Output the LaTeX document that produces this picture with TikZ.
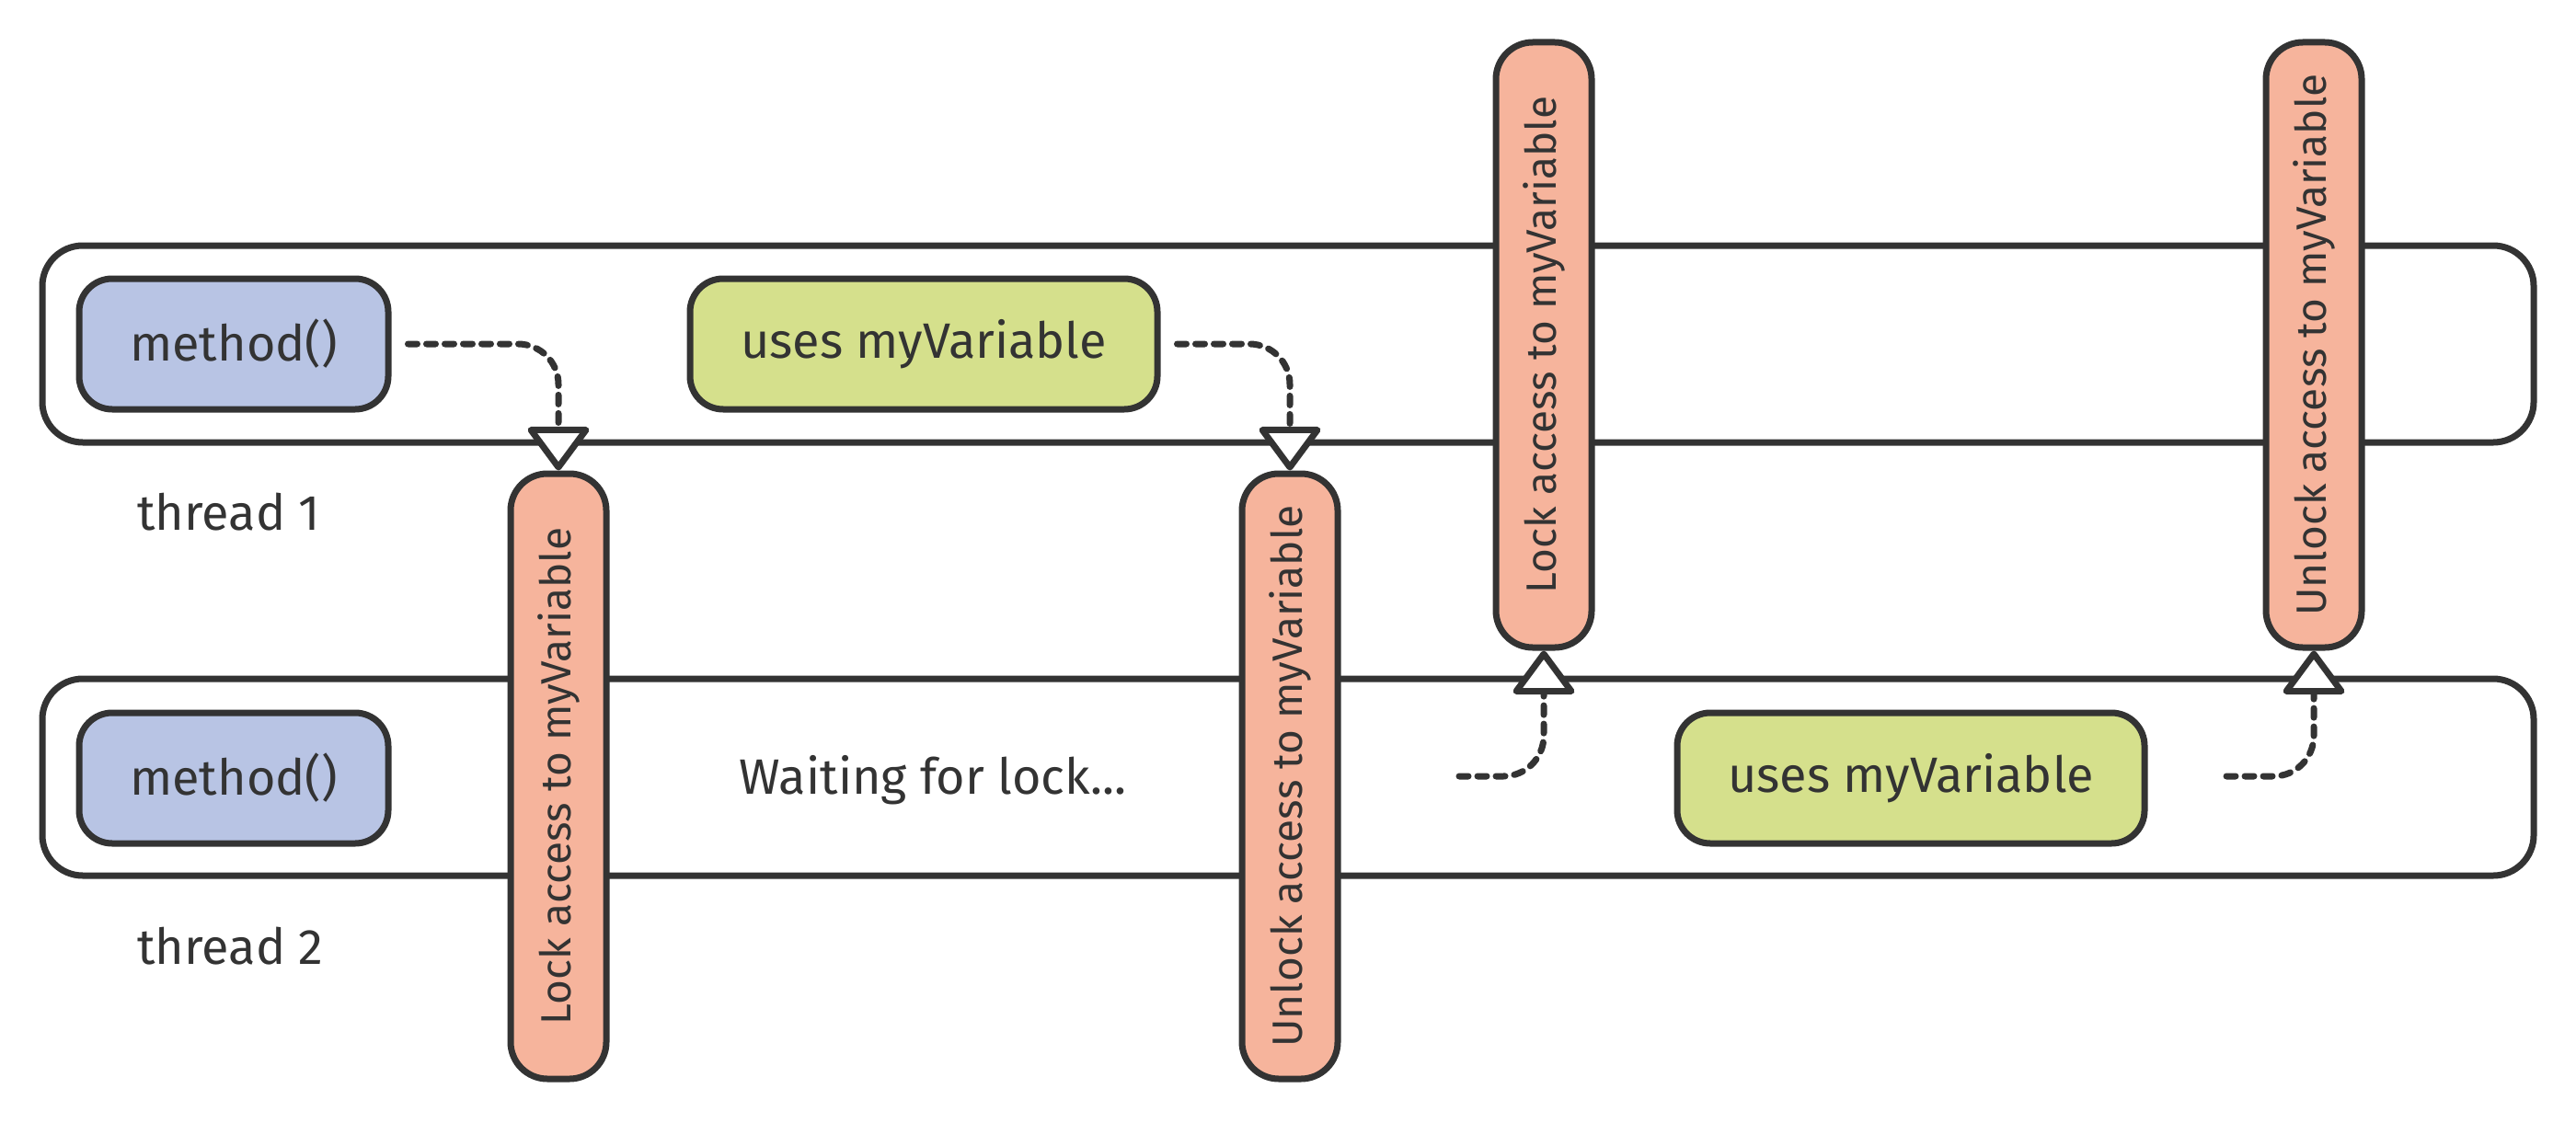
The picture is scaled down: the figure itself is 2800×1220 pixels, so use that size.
\documentclass[tikz,border=0pt]{standalone}
\usepackage{fontspec}
\setmainfont{Fira Sans}
\usetikzlibrary{arrows.meta}
\definecolor{ink}{HTML}{333333}
\definecolor{callfill}{HTML}{B8C4E4}
\definecolor{usefill}{HTML}{D5E08C}
\definecolor{lockfill}{HTML}{F6B49C}
\tikzset{every picture/.style={line width=1.75pt}}

\begin{document}
\begin{tikzpicture}[x=0.25pt,y=0.25pt,yscale=-1,xscale=1,
	lane/.style={draw=ink,fill=white,rounded corners=11pt,minimum width=677pt,minimum height=53.5pt},
	callbox/.style={draw=ink,fill=callfill,rounded corners=9pt,minimum width=84pt,minimum height=35.5pt,font=\fontsize{13.5}{16}\selectfont,text=ink},
	usebox/.style={draw=ink,fill=usefill,rounded corners=9pt,minimum width=127pt,minimum height=35.5pt,font=\fontsize{13.5}{16}\selectfont,text=ink},
	lockbar/.style={draw=ink,fill=lockfill,rounded corners=10pt,rotate=90,minimum width=164.5pt,minimum height=26pt,inner sep=0pt,font=\fontsize{11.5}{14}\selectfont,text=ink},
	label/.style={font=\fontsize{13.5}{16}\selectfont,text=ink,inner sep=0pt},
	flow/.style={draw=ink,dash pattern=on 2.5pt off 2.5pt,line cap=round,rounded corners=11pt,-{Triangle[fill=white,length=12.5pt,width=18pt,line join=round]}}]
					\useasboundingbox (0,0) rectangle (2800,1220);
					%Lanes
					\node (t1) [lane] at (1400,374) {};
					\node (t2) [lane] at (1400,845) {};
					% Text Node
					\node (t1lbl) [label,anchor=west] at (146,557) {thread 1};
					\node (t2lbl) [label,anchor=west] at (146,1029) {thread 2};
					%Rounded Rect
					\node (m1) [callbox] at (254,374) {method()};
					\node (u1) [usebox] at (1004,374) {uses myVariable};
					\node (m2) [callbox] at (254,846) {method()};
					\node (u2) [usebox] at (2077,846) {uses myVariable};
					% Text Node
					\node (wait) [label] at (1014,848) {Waiting for lock...};
					%Lock bars
					\node (lk1) [lockbar] at (607,844) {Lock access to myVariable};
					\node (ul1) [lockbar] at (1402,844) {Unlock access to myVariable};
					\node (lk2) [lockbar] at (1678,375) {Lock access to myVariable};
					\node (ul2) [lockbar] at (2515,375) {Unlock access to myVariable};
					%Free ends
					\coordinate (w2) at (1586,844);
					\coordinate (u2e) at (2420,844);
					%Connectors
					\draw [flow,shorten <=4.5pt] (m1.east) -| (lk1.east);
					\draw [flow,shorten <=4.5pt] (u1.east) -| (ul1.east);
					\draw [flow] (w2) -| (lk2.west);
					\draw [flow] (u2e) -| (ul2.west);
\end{tikzpicture}
\end{document}
